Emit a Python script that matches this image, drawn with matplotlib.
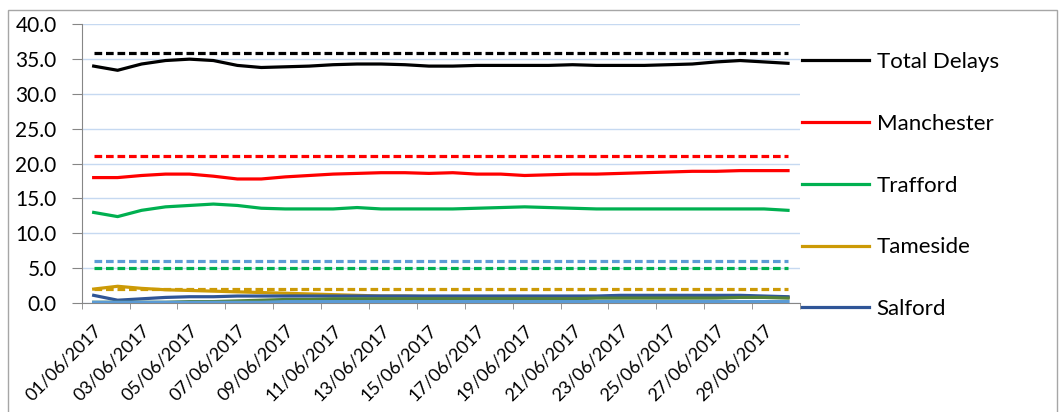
import matplotlib
matplotlib.use("Agg")
import matplotlib.pyplot as plt
from matplotlib.lines import Line2D
from matplotlib.patches import Rectangle
from matplotlib.transforms import ScaledTranslation
import pandas as pd

plt.rcParams['font.family'] = ['Lato', 'DejaVu Sans']

# days of June 2017, one category each
dates = pd.date_range('2017-06-01', '2017-06-30', freq='D')
day_labels = [d.strftime('%d/%m/%Y') for d in dates]

total = [34.0, 33.4, 34.3, 34.8, 35.0, 34.8, 34.1, 33.8, 33.9, 34.0,
         34.2, 34.3, 34.3, 34.2, 34.0, 34.0, 34.1, 34.1, 34.1, 34.1,
         34.2, 34.1, 34.1, 34.1, 34.2, 34.3, 34.6, 34.8, 34.6, 34.4]
manchester = [18.0, 18.0, 18.3, 18.5, 18.5, 18.2, 17.8, 17.8, 18.1, 18.3,
              18.5, 18.6, 18.7, 18.7, 18.6, 18.7, 18.5, 18.5, 18.3, 18.4,
              18.5, 18.5, 18.6, 18.7, 18.8, 18.9, 18.9, 19.0, 19.0, 19.0]
trafford = [13.0, 12.4, 13.3, 13.8, 14.0, 14.2, 14.0, 13.6, 13.5, 13.5,
            13.5, 13.7, 13.5, 13.5, 13.5, 13.5, 13.6, 13.7, 13.8, 13.7,
            13.6, 13.5, 13.5, 13.5, 13.5, 13.5, 13.5, 13.5, 13.5, 13.3]
tameside = [2.0, 2.4, 2.1, 1.9, 1.8, 1.7, 1.6, 1.5, 1.4, 1.3,
            1.2, 1.1, 1.0, 1.0, 0.9, 0.9, 0.9, 0.9, 0.9, 0.9,
            0.9, 0.9, 0.9, 0.9, 0.9, 0.9, 0.9, 0.9, 0.9, 0.8]
salford = [1.1, 0.4, 0.6, 0.8, 0.9, 0.9, 1.0, 1.0, 1.0, 1.0,
           1.0, 1.0, 1.0, 1.0, 1.0, 1.0, 1.0, 1.0, 1.0, 1.0,
           1.0, 1.0, 1.1, 1.1, 1.1, 1.1, 1.1, 1.1, 1.0, 0.9]
# two series drawn in the chart but not named in its legend
unnamed_green = [0.1, 0.1, 0.1, 0.1, 0.2, 0.2, 0.3, 0.4, 0.5, 0.5,
                 0.6, 0.6, 0.6, 0.6, 0.6, 0.6, 0.6, 0.6, 0.6, 0.6,
                 0.6, 0.7, 0.7, 0.7, 0.7, 0.7, 0.7, 0.8, 0.8, 0.7]
unnamed_blue = [0.1, 0.1, 0.1, 0.1, 0.1, 0.1, 0.1, 0.1, 0.2, 0.2,
                0.2, 0.2, 0.2, 0.2, 0.2, 0.2, 0.2, 0.2, 0.2, 0.2,
                0.2, 0.2, 0.2, 0.2, 0.2, 0.2, 0.2, 0.2, 0.2, 0.2]

# dashed target levels
targets = {'black': 35.9, 'red': 21.1, 'lightblue': 6.0, 'green': 5.0, 'gold': 2.0}

colors = {'black': '#000000', 'red': '#FF0000', 'green': '#00B050',
          'gold': '#CC9A06', 'navy': '#2F5597', 'lightblue': '#5B9BD5',
          'darkgreen': '#548235'}

W, H = 1061, 412
PX = 0.72  # points per pixel at dpi 100
fig = plt.figure(figsize=(W / 100, H / 100), dpi=100)
ax = fig.add_axes([81.7 / W, 1 - 303 / H, (800 - 81.7) / W, (303 - 24.3) / H])

# outer chart frame
fig.patches.append(Rectangle((8 / W, -0.1), (1057 - 8) / W, 1.1 - 10 / H,
                             transform=fig.transFigure, fill=False,
                             edgecolor='#A6A6A6', lw=1))

x = list(range(len(dates)))
lw = 2.3

for key, level in targets.items():
    ax.hlines(level, x[0], x[-1], colors=colors[key], lw=lw,
              linestyles=(0, (2.4, 1.2)), zorder=3)

series = [('Total Delays', total, 'black'),
          ('Manchester', manchester, 'red'),
          ('Trafford', trafford, 'green'),
          ('Tameside', tameside, 'gold'),
          ('Salford', salford, 'navy')]
handles = []
for name, vals, key in series:
    ax.plot(x, vals, color=colors[key], lw=lw, zorder=4)
    handles.append(Line2D([], [], color=colors[key], lw=lw, label=name))
ax.plot(x, unnamed_green, color=colors['darkgreen'], lw=lw, zorder=4)
ax.plot(x, unnamed_blue, color=colors['lightblue'], lw=lw, zorder=4)

ax.set_xlim(-0.5, len(x) - 0.5)
ax.set_ylim(0, 40)
ax.set_yticks(range(0, 41, 5))
ax.set_yticklabels([f'{v:.1f}' for v in range(0, 41, 5)], fontsize=15)
ax.yaxis.grid(True, color='#C6D9F1', lw=1)
ax.set_axisbelow(True)

ax.set_xticks(x[::2])
ax.set_xticklabels(day_labels[::2], rotation=45, ha='right',
                   rotation_mode='anchor', fontsize=13)
shift = ScaledTranslation(-4 / 100, 0, fig.dpi_scale_trans)
for lab in ax.get_xticklabels():
    lab.set_transform(lab.get_transform() + shift)
ax.set_xticks([v - 0.5 for v in x[::2]] + [len(x) - 0.5], minor=True)
ax.tick_params(axis='x', which='major', length=0, pad=19 * PX)
ax.tick_params(axis='x', which='minor', length=6 * PX, color='#868686')
ax.tick_params(axis='y', length=10 * PX, color='#868686', pad=15 * PX)

for s in ['top', 'right']:
    ax.spines[s].set_visible(False)
for s in ['left', 'bottom']:
    ax.spines[s].set_color('#868686')

fig.legend(handles=handles, loc='upper left',
           bbox_to_anchor=(802 / W, 1 - 52 / H), frameon=False,
           fontsize=16, handlelength=3.0, handletextpad=0.36,
           labelspacing=1.88, borderpad=0, borderaxespad=0)

fig.savefig('out.png', dpi=100)
